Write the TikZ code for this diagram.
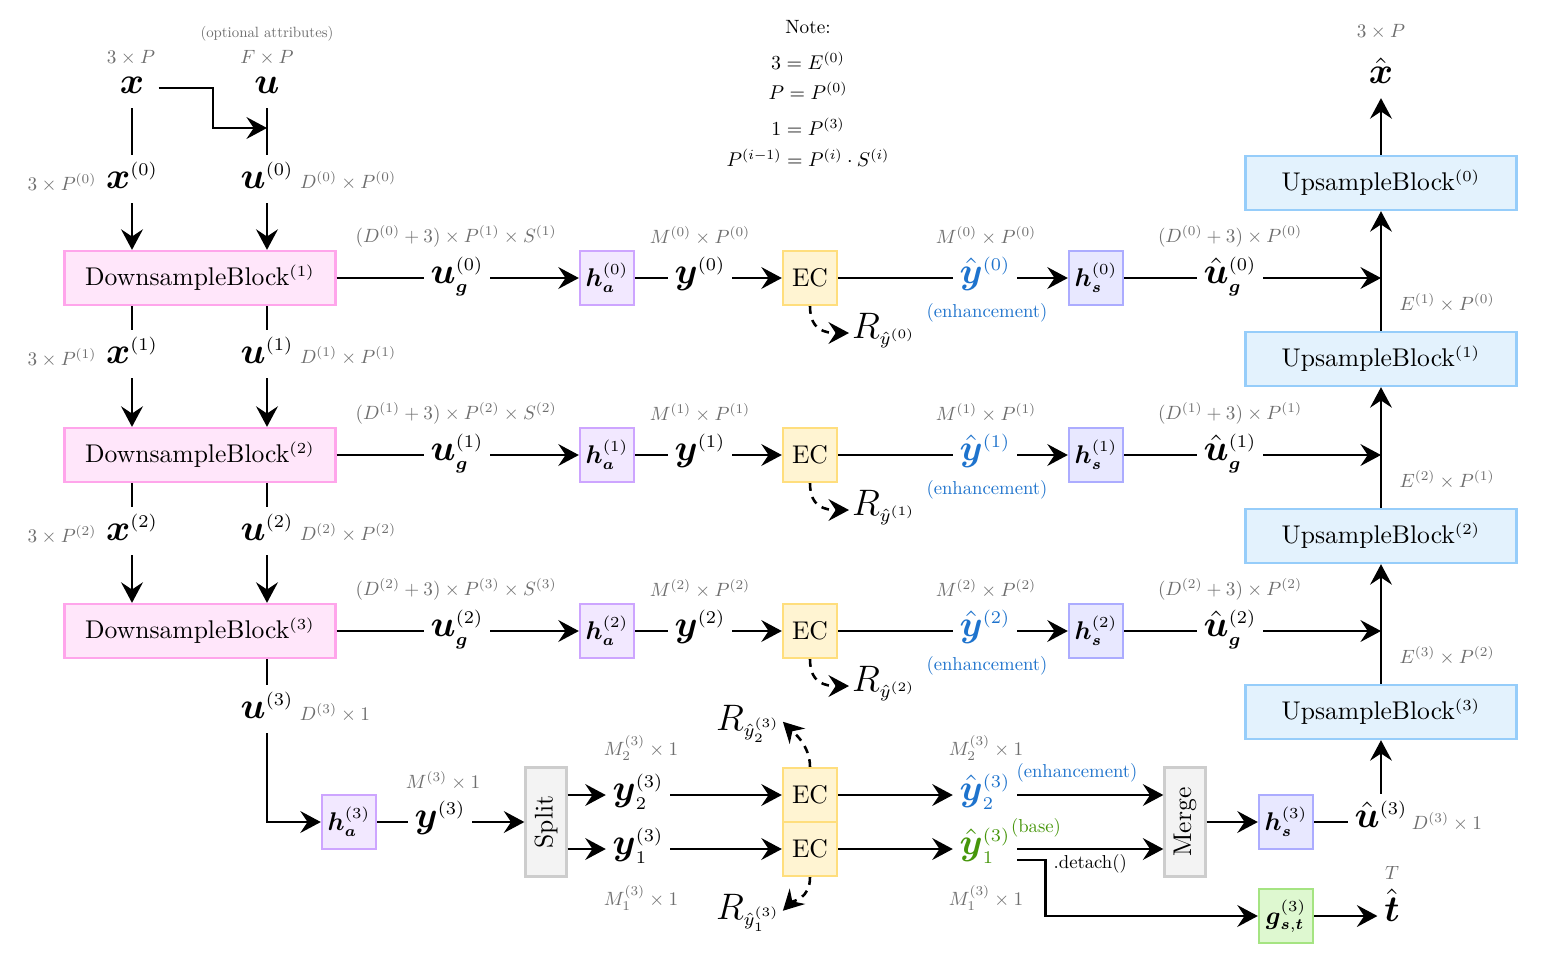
\documentclass[tikz,border=0pt]{standalone}
\usepackage{fix-cm}
\usepackage{amsmath}
\usetikzlibrary{arrows.meta}
\DeclareMathSizes{10}{10}{6}{5}
\DeclareMathSizes{14.4}{14.4}{7}{5}
\definecolor{dsFill}{RGB}{255,230,250}
\definecolor{dsDraw}{RGB}{255,165,235}
\definecolor{haFill}{RGB}{242,232,255}
\definecolor{haDraw}{RGB}{205,165,255}
\definecolor{ecFill}{RGB}{255,244,210}
\definecolor{ecDraw}{RGB}{255,222,125}
\definecolor{hsFill}{RGB}{232,232,255}
\definecolor{hsDraw}{RGB}{172,172,255}
\definecolor{usFill}{RGB}{227,242,253}
\definecolor{usDraw}{RGB}{150,205,250}
\definecolor{smFill}{RGB}{243,243,243}
\definecolor{smDraw}{RGB}{205,205,205}
\definecolor{gFill}{RGB}{222,248,208}
\definecolor{gDraw}{RGB}{165,228,130}
\definecolor{encblue}{RGB}{30,115,205}
\definecolor{basegreen}{RGB}{70,150,10}
\definecolor{dimgray}{RGB}{110,110,110}
\newcommand{\dm}[1]{\scalebox{0.714}{$#1$}}
\newcommand{\nm}[1]{\scalebox{0.74}{$#1$}}
\newcommand{\dt}[1]{\scalebox{0.73}{#1}}
\begin{document}
\begin{tikzpicture}[x=0.3906pt, y=-0.3906pt,
  ln/.style={line width=1pt},
  arr/.style={ln, -{Stealth[length=8pt,width=8.5pt,inset=2.8pt]}},
  darr/.style={arr, dash pattern=on 3pt off 2.5pt},
  var/.style={font=\Large, inner sep=2.5pt, text depth=0.3em, anchor=mid},
  rvar/.style={var, inner sep=1pt},
  dim/.style={font=\fontsize{10.5}{12}\selectfont, text=dimgray, inner sep=1pt},
  tlab/.style={font=\normalsize, inner sep=1pt},
  box/.style={line width=0.9pt, inner sep=0pt, minimum width=21.1pt, minimum height=21.1pt},
  dsbox/.style={box, draw=dsDraw, fill=dsFill, minimum width=105.9pt},
  usbox/.style={box, draw=usDraw, fill=usFill, minimum width=105.9pt},
  habox/.style={box, draw=haDraw, fill=haFill},
  ecbox/.style={box, draw=ecDraw, fill=ecFill},
  hsbox/.style={box, draw=hsDraw, fill=hsFill},
  gbox/.style={box, draw=gDraw, fill=gFill},
  smbox/.style={box, draw=smDraw, fill=smFill, minimum width=16pt, minimum height=42.6pt},
]
\path[fill=white, use as bounding box] (0,0) rectangle (1542,965);

% ---------- top inputs ----------
\node[tlab, text=dimgray] (optl) at (267,34) {\scalebox{0.58}{(optional attributes)}};
\node[dim] (xdim) at (131,58) {\dm{3\times P}};
\node[dim] (udim) at (267,58) {\dm{F\times P}};
\node[var] (x) at (132,88) {$\boldsymbol{x}$};
\node[var] (u) at (267,88) {$\boldsymbol{u}$};
\coordinate (xbend) at (213,88);
\coordinate (ujoin) at (267,128);

% ---------- note ----------
\node[tlab] (n1) at (808,27) {\scalebox{0.75}{Note:}};
\node[dim, text=black] (n2) at (808,61) {\nm{3=E^{(0)}}};
\node[dim, text=black] (n3) at (808,91) {\nm{P=P^{(0)}}};
\node[dim, text=black] (n4) at (808,127) {\nm{1=P^{(3)}}};
\node[dim, text=black] (n5) at (808,158) {\nm{P^{(i-1)}=P^{(i)}\cdot S^{(i)}}};

% ---------- left column variables ----------
\node[var] (x0) at (132,183) {$\boldsymbol{x}^{(0)}$};
\node[var] (u0) at (267,183) {$\boldsymbol{u}^{(0)}$};
\node[var] (x1) at (132,358) {$\boldsymbol{x}^{(1)}$};
\node[var] (u1) at (267,358) {$\boldsymbol{u}^{(1)}$};
\node[var] (x2) at (132,535) {$\boldsymbol{x}^{(2)}$};
\node[var] (u2) at (267,535) {$\boldsymbol{u}^{(2)}$};
\node[var] (u3) at (267,713) {$\boldsymbol{u}^{(3)}$};
\node[dim] (lx0) at (62,183) {\dm{3\times P^{(0)}}};
\node[dim] (lx1) at (62,358) {\dm{3\times P^{(1)}}};
\node[dim] (lx2) at (62,535) {\dm{3\times P^{(2)}}};
\node[dim] (lu0) at (348,181) {\dm{D^{(0)}\times P^{(0)}}};
\node[dim] (lu1) at (348,356) {\dm{D^{(1)}\times P^{(1)}}};
\node[dim] (lu2) at (348,533) {\dm{D^{(2)}\times P^{(2)}}};
\node[dim] (lu3) at (335,713) {\dm{D^{(3)}\times 1}};

% ---------- upsample column ----------
\node[usbox] (ub0) at (1381,183) {UpsampleBlock$^{(0)}$};
\node[usbox] (ub1) at (1381,359) {UpsampleBlock$^{(1)}$};
\node[usbox] (ub2) at (1381,536) {UpsampleBlock$^{(2)}$};
\node[usbox] (ub3) at (1381,712) {UpsampleBlock$^{(3)}$};
\node[var] (xh) at (1381,78) {$\hat{\boldsymbol{x}}$};
\node[dim] (lxh) at (1381,32) {\dm{3\times P}};

% ---------- three rows ----------
\foreach \i/\j/\yy in {0/1/278, 1/2/455, 2/3/631} {
  \node[dsbox] (ds\j) at (200,\yy) {DownsampleBlock$^{(\j)}$};
  \node[var] (ug\i) at (457,\yy) {$\boldsymbol{u}_{\boldsymbol{g}}^{(\i)}$};
  \node[habox] (ha\i) at (607,\yy) {$\boldsymbol{h}_{\boldsymbol{a}}^{(\i)}$};
  \node[var] (y\i) at (700,\yy) {$\boldsymbol{y}^{(\i)}$};
  \node[ecbox] (ec\i) at (810,\yy) {EC};
  \node[var, text=encblue] (yh\i) at (985,\yy) {$\hat{\boldsymbol{y}}{}^{(\i)}$};
  \node[hsbox] (hs\i) at (1096,\yy) {$\boldsymbol{h}_{\boldsymbol{s}}^{(\i)}$};
  \node[var] (uh\i) at (1230,\yy) {$\hat{\boldsymbol{u}}{}_{\boldsymbol{g}}^{(\i)}$};
  \node[rvar, anchor=mid west] (R\i) at (849,\yy+55) {$R_{\hat{y}^{(\i)}}$};
  \node[dim] (la\i) at (456,\yy-42) {\dm{(D^{(\i)}+3)\times P^{(\j)}\times S^{(\j)}}};
  \node[dim] (lb\i) at (700,\yy-42) {\dm{M^{(\i)}\times P^{(\i)}}};
  \node[dim] (lc\i) at (986,\yy-42) {\dm{M^{(\i)}\times P^{(\i)}}};
  \node[dim] (ld\i) at (1230,\yy-42) {\dm{(D^{(\i)}+3)\times P^{(\i)}}};
  \node[tlab, text=encblue] (le\i) at (987,\yy+35) {\dt{(enhancement)}};
  \node[dim] (lf\i) at (1447,\yy+25) {\dm{E^{(\j)}\times P^{(\i)}}};
  \draw[ln] (ds\j.east) -- (ug\i.mid west);
  \draw[arr] (ug\i.mid east) -- (ha\i.west);
  \draw[ln] (ha\i.east) -- (y\i.mid west);
  \draw[arr] (y\i.mid east) -- (ec\i.west);
  \draw[ln] (ec\i.east) -- (yh\i.mid west);
  \draw[arr] (yh\i.mid east) -- (hs\i.west);
  \draw[ln] (hs\i.east) -- (uh\i.mid west);
  \draw[arr] (uh\i.mid east) -- (uh\i.mid east -| ub0.south);
  \draw[darr] (ec\i.south) .. controls +(0,24) and +(-24,0) .. (R\i.mid west);
}

% ---------- left connections ----------
\draw[ln] (x.south) -- (x0.north);
\draw[ln] (u.south) -- (u0.north);
\draw[arr, shorten <=3pt] (x.mid east) -- (xbend) |- (ujoin);
\draw[arr] (x0.south) -- (x0.south |- ds1.north);
\draw[arr] (u0.south) -- (u0.south |- ds1.north);
\draw[ln] (x1.north |- ds1.south) -- (x1.north);
\draw[ln] (u1.north |- ds1.south) -- (u1.north);
\draw[arr] (x1.south) -- (x1.south |- ds2.north);
\draw[arr] (u1.south) -- (u1.south |- ds2.north);
\draw[ln] (x2.north |- ds2.south) -- (x2.north);
\draw[ln] (u2.north |- ds2.south) -- (u2.north);
\draw[arr] (x2.south) -- (x2.south |- ds3.north);
\draw[arr] (u2.south) -- (u2.south |- ds3.north);
\draw[ln] (u3.north |- ds3.south) -- (u3.north);

% ---------- bottom row ----------
\node[habox] (ha3) at (349,822) {$\boldsymbol{h}_{\boldsymbol{a}}^{(3)}$};
\node[var] (y3) at (440,822) {$\boldsymbol{y}^{(3)}$};
\node[dim] (ly3) at (443,781) {\dm{M^{(3)}\times 1}};
\node[smbox] (split) at (546,822) {\rotatebox{90}{Split}};
\node[var] (y32) at (638,795) {$\boldsymbol{y}_2^{(3)}$};
\node[var] (y31) at (638,849) {$\boldsymbol{y}_1^{(3)}$};
\node[dim] (ly32) at (641,748) {\dm{M_2^{(3)}\times 1}};
\node[dim] (ly31) at (641,898) {\dm{M_1^{(3)}\times 1}};
\node[ecbox] (ec32) at (810,795) {EC};
\node[ecbox] (ec31) at (810,849) {EC};
\node[rvar] (R32) at (748,725) {$R_{\hat{y}_2^{(3)}}$};
\node[rvar] (R31) at (748,914) {$R_{\hat{y}_1^{(3)}}$};
\node[var, text=encblue] (yh32) at (985,795) {$\hat{\boldsymbol{y}}{}_2^{(3)}$};
\node[var, text=basegreen] (yh31) at (985,849) {$\hat{\boldsymbol{y}}{}_1^{(3)}$};
\node[dim] (lyh32) at (986,748) {\dm{M_2^{(3)}\times 1}};
\node[dim] (lyh31) at (986,898) {\dm{M_1^{(3)}\times 1}};
\node[tlab, text=encblue] (lenh3) at (1077,773) {\dt{(enhancement)}};
\node[tlab, text=basegreen] (lbase) at (1036,828) {\dt{(base)}};
\node[smbox] (merge) at (1185,822) {\rotatebox{90}{Merge}};
\node[hsbox] (hs3) at (1286,822) {$\boldsymbol{h}_{\boldsymbol{s}}^{(3)}$};
\node[var] (uh3) at (1381,822) {$\hat{\boldsymbol{u}}{}^{(3)}$};
\node[dim] (luh3) at (1447,822) {\dm{D^{(3)}\times 1}};
\node[gbox] (gst) at (1286,916) {$\boldsymbol{g}_{\boldsymbol{s},\boldsymbol{t}}^{(3)}$};
\node[var] (th) at (1392,916) {$\hat{\boldsymbol{t}}$};
\node[dim] (lth) at (1392,873) {\dm{T}};

\draw[arr] (u3.south) |- (ha3.west);
\draw[ln] (ha3.east) -- (y3.mid west);
\draw[arr] (y3.mid east) -- (split.west);
\draw[arr] (split.east |- y32.mid west) -- (y32.mid west);
\draw[arr] (split.east |- y31.mid west) -- (y31.mid west);
\draw[arr] (y32.mid east) -- (ec32.west);
\draw[arr] (y31.mid east) -- (ec31.west);
\draw[arr] (ec32.east) -- (yh32.mid west);
\draw[arr] (ec31.east) -- (yh31.mid west);
\draw[darr] (ec32.north) .. controls +(0,-22) and +(10,10) .. (R32.east);
\draw[darr] (ec31.south) .. controls +(0,22) and +(10,-10) .. (R31.east);
\draw[arr] (yh32.mid east) -- (merge.west |- yh32.mid east);
\draw[arr] (yh31.mid east) -- (merge.west |- yh31.mid east)
  node[midway, below, tlab, inner sep=1.5pt] (detach) {\dt{.detach()}};
\draw[arr] ([yshift=-4.3pt]yh31.mid east) -- ++(28,0) |- (gst.west);
\draw[arr] (merge.east) -- (hs3.west);
\draw[ln] (hs3.east) -- (uh3.mid west);
\draw[arr] (gst.east) -- (th.mid west);
\draw[arr] (uh3.north) -- (ub3.south);
\draw[arr] (ub3.north) -- (ub2.south);
\draw[arr] (ub2.north) -- (ub1.south);
\draw[arr] (ub1.north) -- (ub0.south);
\draw[arr] (ub0.north) -- (xh.south);
\end{tikzpicture}
\end{document}
